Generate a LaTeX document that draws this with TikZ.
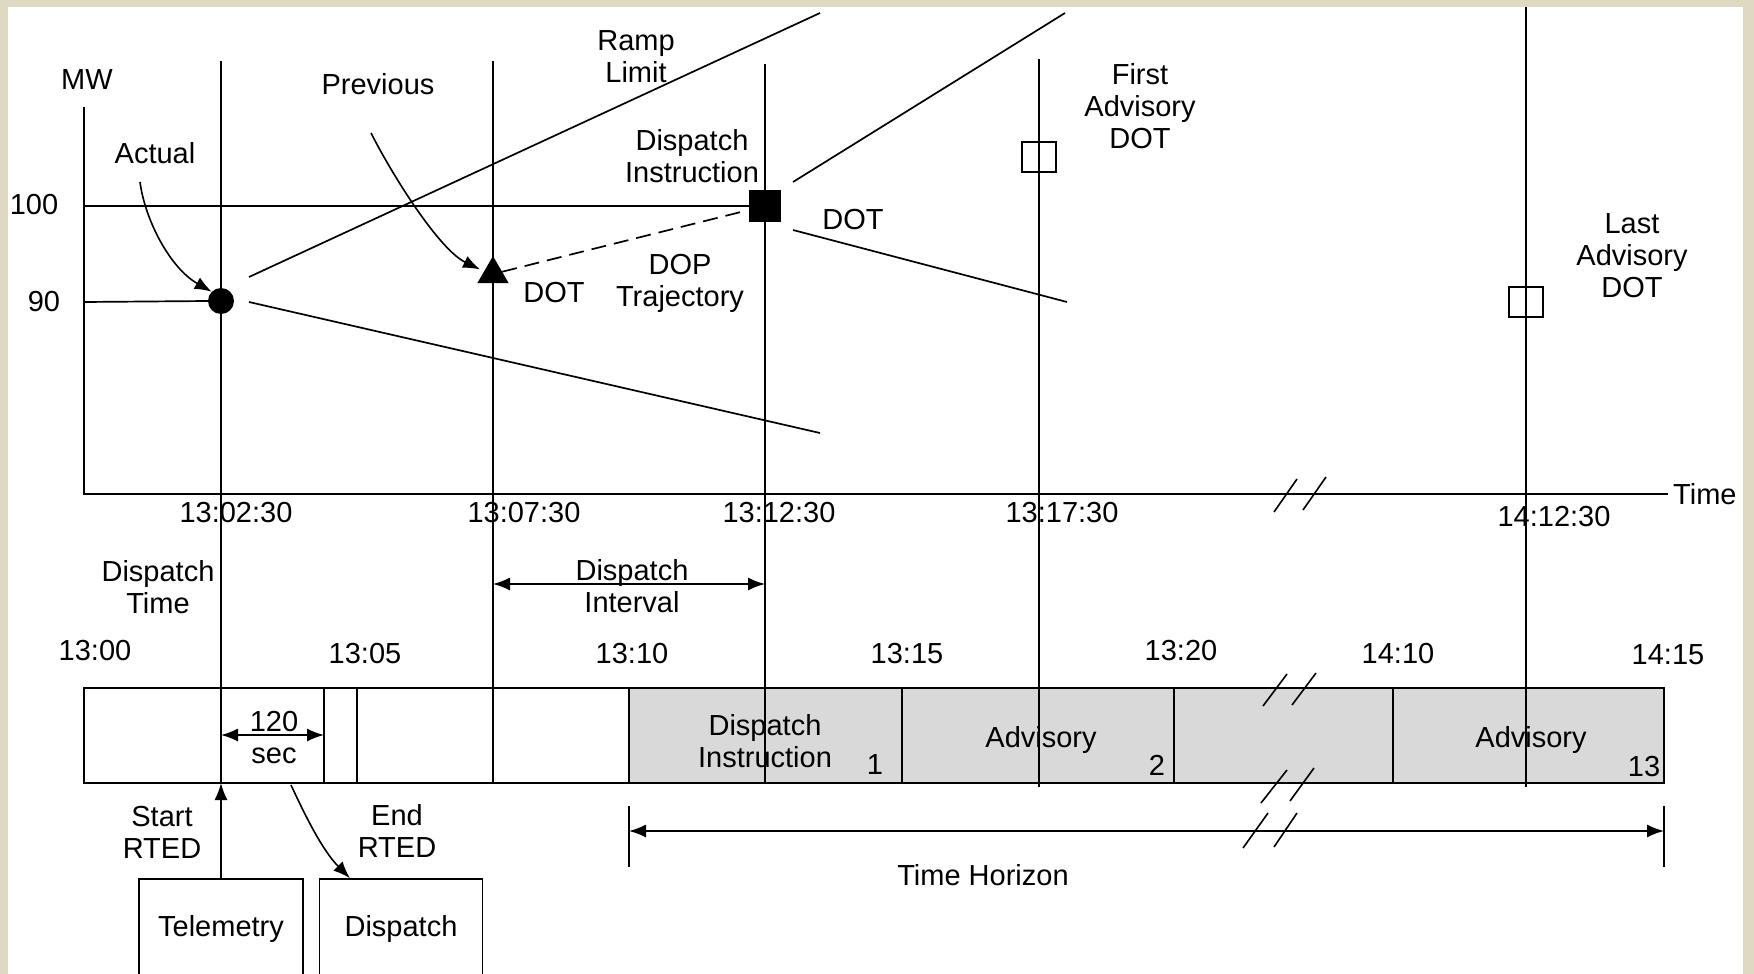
\documentclass[tikz,border=0pt]{standalone}
\usepackage{fontspec}
\setmainfont{Liberation Sans}
\usetikzlibrary{arrows.meta,shapes.geometric}

\definecolor{framebg}{RGB}{221,217,195}
\definecolor{band}{RGB}{217,217,217}

\begin{document}
\begin{tikzpicture}[
  x=1pt, y=-1pt,
  font=\fontsize{29}{32}\selectfont,
  lbl/.style={align=center, inner sep=0pt},
  chartline/.style={line width=1.7pt},
  arrow/.style={-{Latex[length=17pt,width=13pt]}, line width=1.6pt},
  twoway/.style={{Latex[length=17pt,width=13pt]}-{Latex[length=17pt,width=13pt]},
                 line width=1.6pt},
  brk/.style={line width=1.6pt},
  srcbox/.style={draw, line width=1.6pt, minimum width=164pt,
                 minimum height=100pt, inner sep=0pt},
  dotmark/.style={fill=black, inner sep=0pt},
  advbox/.style={draw, line width=1.6pt, minimum width=34pt,
                 minimum height=30pt, inner sep=0pt}
]
\fill[framebg] (0,0) rectangle (1754,974);
\fill[white] (8,7) rectangle (1743,974);
\useasboundingbox (0,0) rectangle (1754,974);
\clip (0,0) rectangle (1754,974);

% chart
\draw[chartline] (84,107) -- (84,494) -- (1668,494);
\fill[band] (629,688) rectangle (1664,783);
\draw[chartline] (84,688) rectangle (1664,783);
\foreach \x in {324,357,629,902,1174,1393}
  \draw[chartline] (\x,688) -- (\x,783);
\foreach \x/\t/\b in {221/61/783, 493/61/783, 765/64/783, 1039/59/787, 1526/7/787}
  \draw[chartline] (\x,\t) -- (\x,\b);

\draw[chartline] (249,277) -- (820,13);
\draw[chartline] (249,302) -- (820,433);
\draw[chartline] (793,182) -- (1065,13);
\draw[chartline] (793,230) -- (1067,302);

\node[dotmark, circle, minimum size=26pt] (actual) at (221,301) {};
\node[dotmark, regular polygon, regular polygon sides=3,
      minimum size=36pt] (prevdot) at (493,274) {};
\node[dotmark, minimum size=32pt] (dispdot) at (765,206) {};
\node[advbox] (firstadv) at (1039,157) {};
\node[advbox] (lastadv) at (1526,302) {};

\draw[chartline] (84,206) -- (dispdot.west);
\draw[chartline] (84,302) -- (actual.west);
\draw[chartline, dash pattern=on 15pt off 8pt, shorten >=7pt] (prevdot) -- (dispdot);

\node[lbl] (mwlbl) at (87,80) {MW};
\node[lbl] (hundred) at (34,205) {100};
\node[lbl] (ninety) at (44,302) {90};
\node[lbl] (actuallbl) at (155,153) {Actual};
\node[lbl] (prevlbl) at (378,84) {Previous};
\node[lbl] (ramplbl) at (636,57) {Ramp\\Limit};
\node[lbl] (displbl) at (692,156) {Dispatch\\Instruction};
\node[lbl] (dota) at (554,293) {DOT};
\node[lbl] (doplbl) at (680,283) {DOP\\Trajectory};
\node[lbl] (dotb) at (853,220) {DOT};
\node[lbl] (firstlbl) at (1140,106) {First\\Advisory\\DOT};
\node[lbl] (lastlbl) at (1632,256) {Last\\Advisory\\DOT};
\node[lbl, anchor=west] (timelbl) at (1673,494) {Time};

\coordinate (actualtail) at (140,182);
\coordinate (prevtail) at (371,133);
\draw[arrow] (actualtail) .. controls (145,220) and (170,268) .. (actual.north west);
\draw[arrow] (prevtail) .. controls (395,180) and (440,250) .. ([xshift=-5pt]prevdot.side 1);

\node[lbl] (ta) at (236,513) {13:02:30};
\node[lbl] (tb) at (524,513) {13:07:30};
\node[lbl] (tc) at (779,513) {13:12:30};
\node[lbl] (td) at (1062,513) {13:17:30};
\node[lbl] (te) at (1554,517) {14:12:30};

\draw[brk] (1274,512) -- (1297,479);
\draw[brk] (1303,510) -- (1326,477);

% dispatch timeline
\node[lbl] (disptime) at (158,587) {Dispatch\\Time};
\node[lbl] (dispint) at (632,586) {Dispatch\\Interval};
\draw[twoway] (493,584) -- (765,584);

\node[lbl] (la) at (95,651) {13:00};
\node[lbl] (lb) at (365,654) {13:05};
\node[lbl] (lc) at (632,654) {13:10};
\node[lbl] (ld) at (907,654) {13:15};
\node[lbl] (le) at (1181,651) {13:20};
\node[lbl] (lf) at (1398,654) {14:10};
\node[lbl] (lg) at (1668,655) {14:15};

\node[lbl] (seclbl) at (274,738) {120\\sec};
\draw[twoway] (221,735) -- (324,735);
\node[lbl] (instlbl) at (765,741) {Dispatch\\Instruction};
\node[lbl] (advone) at (1041,740) {Advisory};
\node[lbl] (advlast) at (1531,740) {Advisory};
\node[lbl] (numa) at (875,765) {1};
\node[lbl] (numb) at (1157,765) {2};
\node[lbl] (numc) at (1644,767) {13};

\draw[brk] (1263,706) -- (1287,674);
\draw[brk] (1292,705) -- (1316,673);
\draw[brk] (1261,803) -- (1287,770);
\draw[brk] (1290,801) -- (1314,768);

% horizon
\draw[chartline] (629,806) -- (629,867);
\draw[chartline] (1664,806) -- (1664,867);
\draw[twoway] (629,831) -- (1664,831);
\draw[brk] (1243,848) -- (1268,813);
\draw[brk] (1274,847) -- (1297,813);
\node[lbl] (horizon) at (983,875) {Time Horizon};

% RTED
\node[srcbox] (telem) at (221,929) {Telemetry};
\node[srcbox, minimum width=163pt] (dispatchbox) at (401,929) {Dispatch};
\coordinate (startin) at (221,783);
\coordinate (endout) at (291,785);
\draw[arrow] (telem.north) -- (startin);
\draw[arrow] (endout) .. controls (305,815) and (322,850) .. ([xshift=-51pt]dispatchbox.north);
\node[lbl] (startlbl) at (162,832) {Start\\RTED};
\node[lbl] (endlbl) at (397,831) {End\\RTED};
\end{tikzpicture}
\end{document}
